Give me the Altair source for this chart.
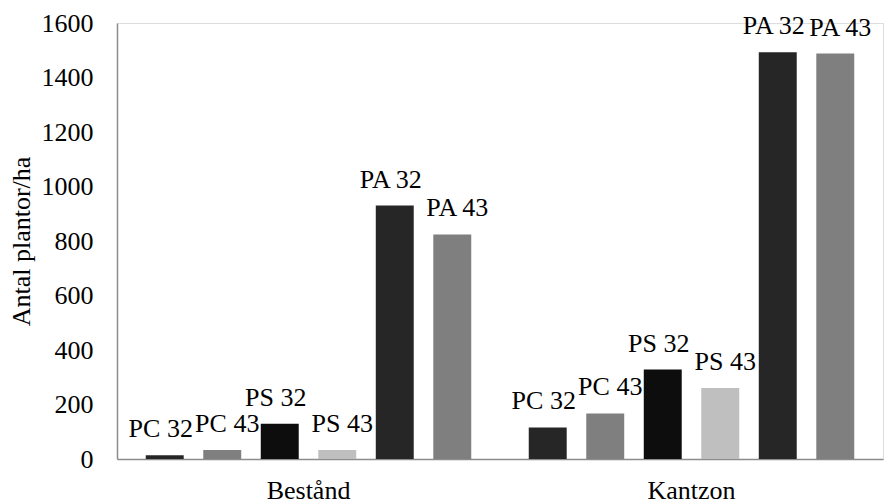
import altair as alt
import pandas as pd

groups = ["Bestånd", "Kantzon"]
series = ["PC 32", "PC 43", "PS 32", "PS 43", "PA 32", "PA 43"]
bestand_values = [14, 33, 129, 33, 930, 824]
kantzon_values = [116, 167, 328, 261, 1493, 1488]
series_colors = ["#262626", "#7f7f7f", "#0d0d0d", "#bfbfbf", "#262626", "#7f7f7f"]

rows = []
for g, vals in zip(groups, [bestand_values, kantzon_values]):
    for i, (s, v) in enumerate(zip(series, vals)):
        rows.append({"grupp": g, "serie": s, "ordning": i, "varde": v})
df = pd.DataFrame(rows)

FONT = "Liberation Serif"
FS = 26

x = alt.X("grupp:N", sort=groups, title=None,
          scale=alt.Scale(paddingInner=0, paddingOuter=0),
          axis=alt.Axis(labelAngle=0, ticks=False, domainColor="#8c8c8c", domainWidth=1.5,
                        labelFont=FONT, labelFontSize=FS, labelColor="#000000",
                        labelPadding=18))
xo = alt.XOffset("serie:N", sort=series,
                 scale=alt.Scale(paddingInner=0.34, paddingOuter=0.5))
y = alt.Y("varde:Q", title="Antal plantor/ha",
          scale=alt.Scale(domain=[0, 1600], nice=False),
          axis=alt.Axis(values=list(range(0, 1601, 200)), ticks=False, grid=False,
                        format="d",
                        domainColor="#8c8c8c", domainWidth=1.5,
                        labelFont=FONT, labelFontSize=FS, labelColor="#000000",
                        labelPadding=24,
                        titleFont=FONT, titleFontSize=FS, titleFontWeight="normal",
                        titleColor="#000000", titlePadding=7))

bars = alt.Chart(df).mark_bar().encode(
    x=x, xOffset=xo, y=y,
    color=alt.Color("serie:N", sort=series,
                    scale=alt.Scale(domain=series, range=series_colors), legend=None),
)

def label_layer(suffix, dx):
    members = [s for s in series if s.endswith(suffix)]
    return alt.Chart(df).transform_filter(
        alt.FieldOneOfPredicate(field="serie", oneOf=members)
    ).mark_text(font=FONT, fontSize=FS, color="#000000",
                baseline="alphabetic", dy=-18, dx=dx).encode(
        x=alt.X("grupp:N", sort=groups),
        xOffset=alt.XOffset("serie:N", sort=series),
        y="varde:Q",
        text="serie:N",
    )

labels32 = label_layer("32", -4)
labels43 = label_layer("43", 5)

chart = alt.layer(bars, labels32, labels43).properties(
    width=766, height=436,
    autosize=alt.AutoSizeParams(type="none"),
    padding={"left": 117, "top": 23, "right": 2, "bottom": 44},
).configure_view(stroke=None).configure(background="#ffffff", font=FONT)

chart.save("out.html", embed_options={"renderer": "svg", "actions": False})
